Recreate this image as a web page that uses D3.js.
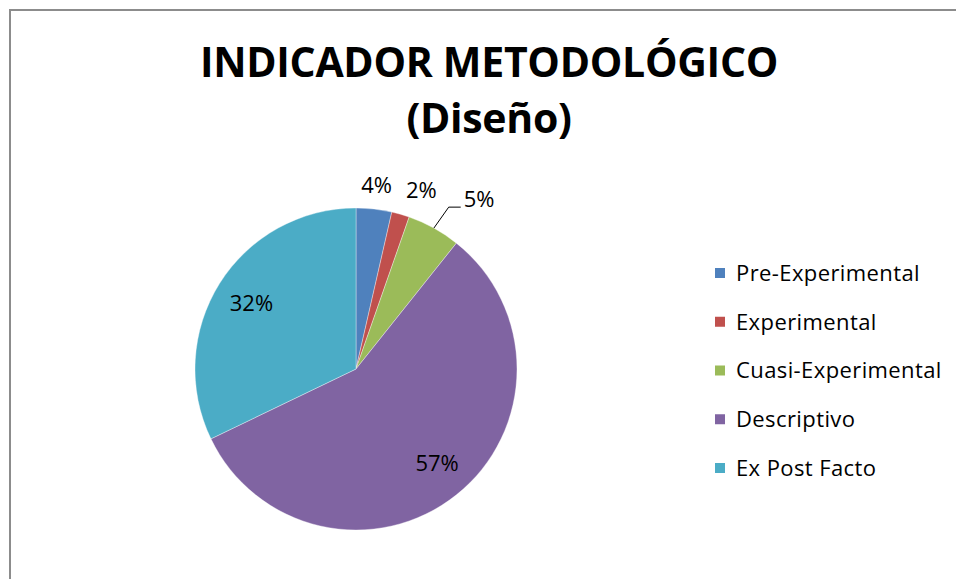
<!doctype html>
<html>
<head>
<meta charset="UTF-8">
<title>Indicador metodológico</title>
<script src="https://d3js.org/d3.v7.min.js"></script>
<style>
	body {
		margin: 0;
		background: #fff;
	}
	.chart text {
		font-family: 'Open Sans', sans-serif;
		fill: #000;
	}
	.title {
		font-size: 41px;
		font-weight: bold;
		letter-spacing: -0.3px;
	}
	.legend text {
		font-size: 22px;
		letter-spacing: 0.4px;
	}
	.label {
		font-size: 22px;
	}
</style>
</head>

<body>
<svg class="chart" width="956" height="579"></svg>
<script>
// data
var categories = ['Pre-Experimental', 'Experimental', 'Cuasi-Experimental', 'Descriptivo', 'Ex Post Facto'];
var counts = [2, 1, 3, 32, 18];
var colors = ['#4f81bd', '#c0504d', '#9bbb59', '#8064a2', '#4bacc6'];
var titleLines = ['INDICADOR METODOLÓGICO', '(Diseño)'];

// label placement (radius factor, angle nudge in degrees, leader line)
var labelPlace = [
	{k: 1.147, da: 0, leader: false},
	{k: 1.184, da: 4, leader: false},
	{k: 1.303, da: 7, leader: true},
	{k: 0.771, da: -2.2, leader: false},
	{k: 0.767, da: 0, leader: false}
];

var chart = d3.select('.chart');
var cx = 356, cy = 369, radius = 161;

// frame
chart.append('rect')
	.attr('x', 10)
	.attr('y', 10)
	.attr('width', 980)
	.attr('height', 620)
	.attr('fill', 'none')
	.attr('stroke', '#8c8c8c')
	.attr('stroke-width', 2);

// title
chart.selectAll('.title')
	.data(titleLines)
	.enter().append('text')
	.attr('class', 'title')
	.attr('x', 489)
	.attr('y', function(d, i) { return 77 + i * 56; })
	.attr('text-anchor', 'middle')
	.text(function(d) { return d; });

var total = d3.sum(counts);
var pie = d3.pie().sort(null).value(function(d) { return d; });
var arc = d3.arc().innerRadius(0).outerRadius(radius);
var arcs = pie(counts);

var g = chart.append('g')
	.attr('transform', 'translate(' + cx + ',' + cy + ')');

g.selectAll('.slice')
	.data(arcs)
	.enter().append('path')
	.attr('class', 'slice')
	.attr('d', arc)
	.attr('fill', function(d, i) { return colors[i]; })
	.attr('stroke', '#fff')
	.attr('stroke-width', 0.6)
	.attr('stroke-opacity', 0.6);

function polar(angle, r) {
	return [Math.sin(angle) * r, -Math.cos(angle) * r];
}

arcs.forEach(function(d, i) {
	var p = labelPlace[i];
	var mid = (d.startAngle + d.endAngle) / 2;
	var pos = polar(mid + p.da * Math.PI / 180, radius * p.k);
	var txt = g.append('text')
		.attr('class', 'label')
		.attr('x', pos[0])
		.attr('y', pos[1])
		.attr('dy', '0.36em')
		.attr('text-anchor', 'middle')
		.text(Math.round(d.value / total * 100) + '%');
	if (p.leader) {
		var w = txt.node().getComputedTextLength();
		var left = pos[0] - w / 2;
		var bottom = pos[1] + 8;
		var start = polar(mid, radius);
		g.append('polyline')
			.attr('points', [start, [left - 15, bottom], [left - 3, bottom]].map(function(q) { return q.join(','); }).join(' '))
			.attr('fill', 'none')
			.attr('stroke', '#000')
			.attr('stroke-width', 1);
	}
});

// legend
var ly = d3.scalePoint()
	.domain(categories)
	.range([273, 468]);

var legend = chart.append('g').attr('class', 'legend');
var item = legend.selectAll('g')
	.data(categories)
	.enter().append('g')
	.attr('transform', function(d) { return 'translate(715,' + ly(d) + ')'; });
item.append('rect')
	.attr('x', 0)
	.attr('y', -5)
	.attr('width', 10)
	.attr('height', 10)
	.attr('fill', function(d, i) { return colors[i]; });
item.append('text')
	.attr('x', 21)
	.attr('dy', '0.36em')
	.text(function(d) { return d; });
</script>
</body>
</html>
